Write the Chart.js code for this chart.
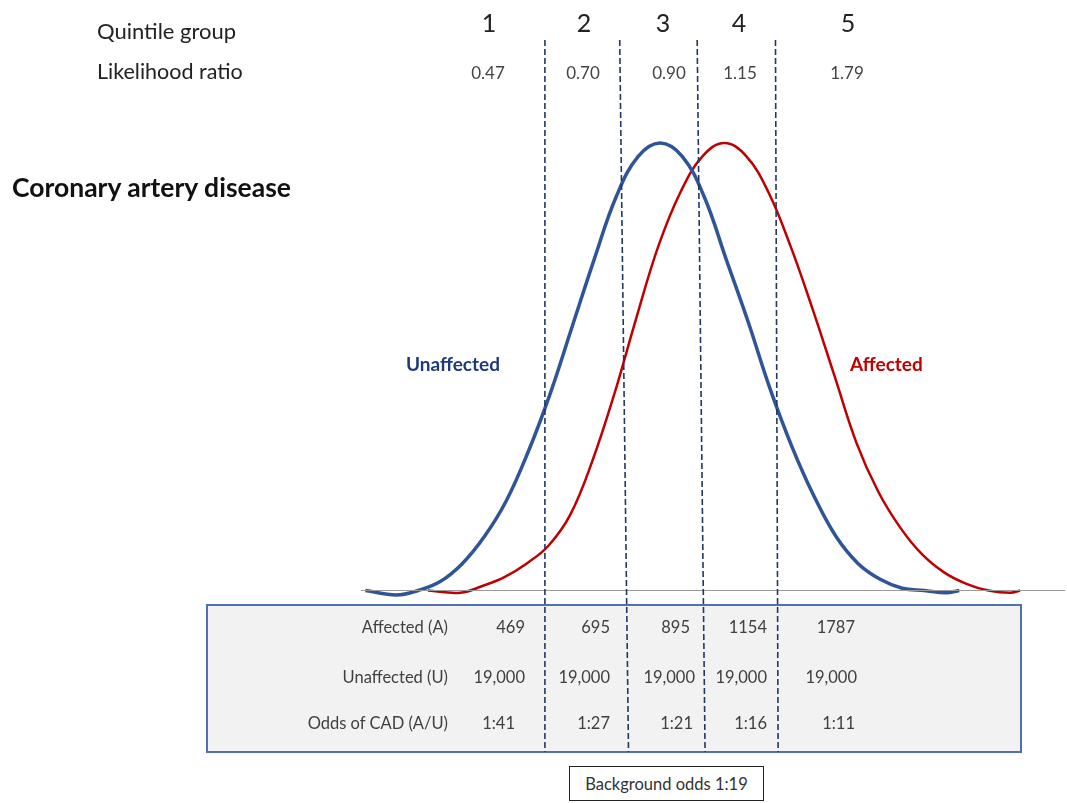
<!DOCTYPE html>
<html>
<head>
<meta charset="utf-8">
<script src="https://cdn.jsdelivr.net/npm/chart.js@4.4.0/dist/chart.umd.min.js"></script>
<style>
  body { margin: 0; background: #fff; font-family: Lato, 'Noto Sans', sans-serif; }
  #wrap { position: relative; width: 1067px; height: 803px; overflow: hidden; }
  canvas { position: absolute; left: 0; top: 0; }
  .t { position: absolute; white-space: nowrap; line-height: 1; }
  .c { transform: translate(-50%, -50%); }
  .l { transform: translate(0, -50%); }
  .r { transform: translate(-100%, -50%); }
  .head { font-size: 21.5px; color: #222; }
  .num { font-size: 25px; color: #222; }
  .lr { font-size: 17px; color: #444; }
  .cell { font-size: 16.5px; color: #404040; }
  #bg { position: absolute; left: 569px; top: 766px; width: 193px; height: 33px; border: 1px solid #222;
        background: #fff; font-size: 16.5px; color: #333; display: flex; align-items: center; justify-content: center; }
</style>
</head>
<body>
<div id="wrap">
  <canvas id="chart" width="1067" height="803"></canvas>
</div>
<script>
// quintile groups and the numbers under them
const quintiles = ['1', '2', '3', '4', '5'];
const likelihoodRatios = ['0.47', '0.70', '0.90', '1.15', '1.79'];
const affectedCounts = ['469', '695', '895', '1154', '1787'];
const unaffectedCounts = ['19,000', '19,000', '19,000', '19,000', '19,000'];
const oddsCAD = ['1:41', '1:27', '1:21', '1:16', '1:11'];
const rowLabels = ['Affected (A)', 'Unaffected (U)', 'Odds of CAD (A/U)'];

// curves (score, relative density)
const unaffectedX = [-3.35, -3.00, -2.75, -2.50, -2.25, -2.00, -1.75, -1.50, -1.25, -1.00, -0.75, -0.50, -0.25, 0.00, 0.25, 0.50, 0.75, 1.00, 1.25, 1.50, 1.75, 2.00, 2.25, 2.50, 2.75, 3.00, 3.25, 3.40];
const unaffectedY = [0.00, -0.01, 0.00, 0.02, 0.06, 0.12, 0.20, 0.31, 0.44, 0.59, 0.74, 0.88, 0.97, 1.00, 0.97, 0.88, 0.74, 0.60, 0.45, 0.32, 0.21, 0.12, 0.06, 0.025, 0.005, 0.00, -0.005, 0.00];
const affectedX = [-2.64, -2.27, -2.02, -1.77, -1.52, -1.27, -1.02, -0.77, -0.52, -0.27, -0.02, 0.23, 0.48, 0.73, 0.98, 1.23, 1.48, 1.73, 1.98, 2.23, 2.48, 2.73, 2.98, 3.23, 3.48, 3.73, 3.98, 4.09];
const affectedY = [0.00, -0.005, 0.01, 0.03, 0.06, 0.10, 0.17, 0.29, 0.44, 0.61, 0.77, 0.89, 0.97, 1.00, 0.97, 0.89, 0.77, 0.63, 0.48, 0.33, 0.22, 0.14, 0.08, 0.04, 0.015, 0.00, -0.005, 0.00];

// quintile boundaries on the score axis (top and bottom of each dashed line)
const cutTop = [-1.31, -0.46, 0.42, 1.31];
const cutBottom = [-1.31, -0.36, 0.51, 1.34];

const toPoints = (xs, ys) => xs.map((x, i) => ({ x: x, y: ys[i] }));

const wrap = document.getElementById('wrap');
function addText(txt, cls, x, y, style) {
  const d = document.createElement('div');
  d.className = 't ' + cls;
  d.textContent = txt;
  d.style.left = x + 'px';
  d.style.top = y + 'px';
  if (style) Object.assign(d.style, style);
  wrap.appendChild(d);
}

const boxPlugin = {
  id: 'boxes',
  beforeDatasetsDraw(chart) {
    const ctx = chart.ctx;
    ctx.save();
    ctx.fillStyle = '#f2f2f2';
    ctx.fillRect(207, 605, 814, 147);
    ctx.strokeStyle = '#4f71ad';
    ctx.lineWidth = 2;
    ctx.strokeRect(207, 605, 814, 147);
    ctx.restore();
  },
  afterDatasetsDraw(chart) {
    const ctx = chart.ctx;
    const xs = chart.scales.x;
    ctx.save();
    ctx.strokeStyle = '#1f3864';
    ctx.lineWidth = 1.6;
    ctx.setLineDash([6, 3]);
    cutTop.forEach((c, i) => {
      ctx.beginPath();
      ctx.moveTo(xs.getPixelForValue(c), 40);
      ctx.lineTo(xs.getPixelForValue(cutBottom[i]), 752);
      ctx.stroke();
    });
    ctx.restore();
  }
};

new Chart(document.getElementById('chart').getContext('2d'), {
  type: 'line',
  data: {
    datasets: [
      {
        label: 'baseline',
        data: [{ x: -3.4, y: 0 }, { x: 4.6, y: 0 }],
        borderColor: '#9a9a9a',
        borderWidth: 1.2,
        pointRadius: 0
      },
      {
        label: 'Unaffected',
        data: toPoints(unaffectedX, unaffectedY),
        borderColor: '#2f5597',
        borderWidth: 3.5,
        pointRadius: 0,
        tension: 0.4
      },
      {
        label: 'Affected',
        data: toPoints(affectedX, affectedY),
        borderColor: '#c00000',
        borderWidth: 2.5,
        pointRadius: 0,
        tension: 0.4
      }
    ]
  },
  options: {
    responsive: false,
    animation: false,
    layout: { padding: { left: 361, right: 2, top: 98.25, bottom: 167.75 } },
    plugins: { legend: { display: false }, tooltip: { enabled: false } },
    scales: {
      x: { type: 'linear', min: -3.4, max: 4.6, display: false },
      y: { min: -0.1, max: 1.1, display: false }
    }
  },
  plugins: [boxPlugin]
});

// headings
addText('Quintile group', 'l head', 97, 31, { fontSize: '22px' });
addText('Likelihood ratio', 'l head', 97, 72);
addText('Coronary artery disease', 'l', 12, 187, { fontSize: '26.5px', fontWeight: '700', color: '#111' });
addText('Unaffected', 'l', 406, 363, { fontSize: '19px', fontWeight: '700', color: '#1f3a78' });
addText('Affected', 'l', 850, 363, { fontSize: '19px', fontWeight: '700', color: '#c00000' });

const topCols = [489, 584, 663, 739, 848];
const lrCols = [488, 583, 669, 740, 847];
quintiles.forEach((q, i) => addText(q, 'c num', topCols[i], 22));
likelihoodRatios.forEach((v, i) => addText(v, 'c lr', lrCols[i], 72));

// table rows
const rowY = [627, 677, 723];
const rowRight = [
  [525, 610, 690, 767, 855],
  [525, 610, 695, 767, 857],
  [515, 610, 693, 767, 855]
];
rowLabels.forEach((lab, r) => addText(lab, 'r cell', 448, rowY[r]));
[affectedCounts, unaffectedCounts, oddsCAD].forEach((row, r) => {
  row.forEach((v, i) => addText(v, 'r cell', rowRight[r][i], rowY[r]));
});

const bg = document.createElement('div');
bg.id = 'bg';
bg.textContent = 'Background odds 1:19';
wrap.appendChild(bg);
</script>
</body>
</html>
